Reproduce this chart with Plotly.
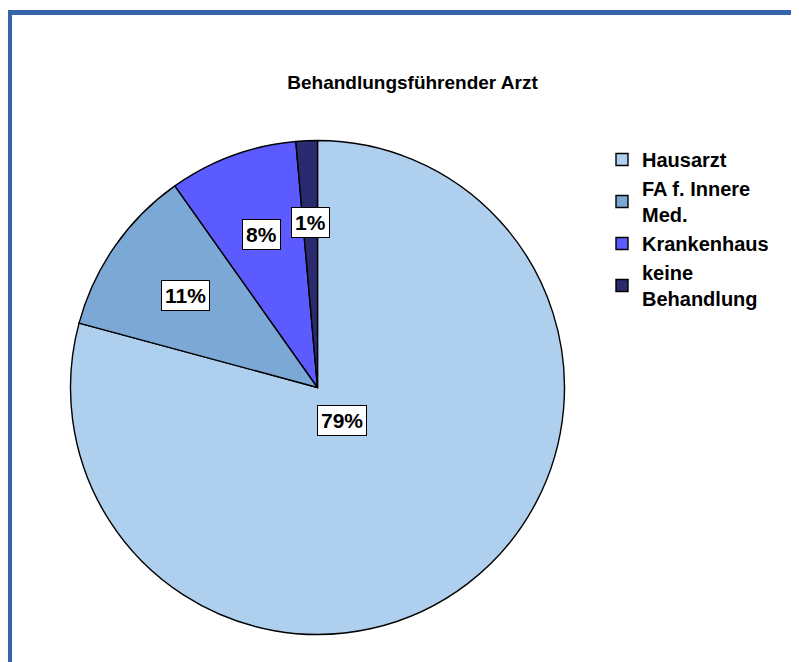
import math
import plotly.graph_objects as go

# ---- data ----
labels = ["Hausarzt", "FA f. Innere Med.", "Krankenhaus", "keine Behandlung"]
legend_names = ["Hausarzt", "FA f. Innere<br>Med.", "Krankenhaus", "keine<br>Behandlung"]
values = [79.2, 11.0, 8.4, 1.4]
title_text = "Behandlungsführender Arzt"

# ---- style ----
colors = ["#AED0EE", "#7BA8D5", "#5B5BFF", "#2A2A6E"]
label_r = [0.166, 0.65, 0.66, 0.667]   # radial position of value labels (fraction of radius)
OFF = 8                                # page body margin
W, H = 799 - OFF, 662 - OFF
FONT = "Liberation Sans, Arial, sans-serif"

# pie placement (figure px, zero margins)
cx_px, cy_px, R_px = 317.5 - OFF, 387.5 - OFF, 247.0
dom_x = [(cx_px - R_px) / W, (cx_px + R_px) / W]
dom_y = [(H - cy_px - R_px) / H, (H - cy_px + R_px) / H]

fig = go.Figure()
fig.add_trace(go.Pie(
    labels=legend_names,
    values=values,
    sort=False,
    direction="clockwise",
    rotation=0,
    marker=dict(colors=colors, line=dict(color="black", width=1.4)),
    textinfo="none",
    hoverinfo="label+percent",
    domain=dict(x=dom_x, y=dom_y),
))

# value labels with white boxes, positioned from the data's angles
total = sum(values)
cum = 0.0
cxp = (dom_x[0] + dom_x[1]) / 2
cyp = (dom_y[0] + dom_y[1]) / 2
for v, fr in zip(values, label_r):
    mid = (cum + v / 2) / total * 2 * math.pi
    cum += v
    x = cxp + fr * R_px * math.sin(mid) / W
    y = cyp + fr * R_px * math.cos(mid) / H
    fig.add_annotation(
        x=x, y=y, xref="paper", yref="paper",
        text="<b>%d%%</b>" % round(v / total * 100 - 1e-9),
        showarrow=False,
        font=dict(family=FONT, size=21, color="black"),
        bgcolor="white", bordercolor="black", borderwidth=1, borderpad=3,
        xanchor="center", yanchor="middle",
    )

fig.update_layout(
    width=W, height=H,
    margin=dict(l=0, r=0, t=0, b=0),
    paper_bgcolor="white",
    plot_bgcolor="white",
    title=dict(text="<b>" + title_text + "</b>", x=(412.5 - OFF) / W, y=1 - (82 - OFF) / H,
               xanchor="center", yanchor="middle",
               font=dict(family=FONT, size=19, color="black")),
    legend=dict(x=(602 - OFF) / W, y=1 - (140 - OFF) / H, xanchor="left", yanchor="top",
                font=dict(family=FONT, size=20, color="black", weight="bold"),
                bgcolor="rgba(0,0,0,0)", traceorder="normal"),
    showlegend=True,
    shapes=[
        dict(type="line", xref="paper", yref="paper",
             x0=0, x1=1, y0=1 - (12.5 - OFF) / H, y1=1 - (12.5 - OFF) / H,
             line=dict(color="#3465AA", width=5)),
        dict(type="line", xref="paper", yref="paper",
             x0=(9.5 - OFF) / W, x1=(9.5 - OFF) / W, y0=0, y1=1 - (10 - OFF) / H,
             line=dict(color="#3465AA", width=5)),
    ],
)

fig.write_html("out.html")
